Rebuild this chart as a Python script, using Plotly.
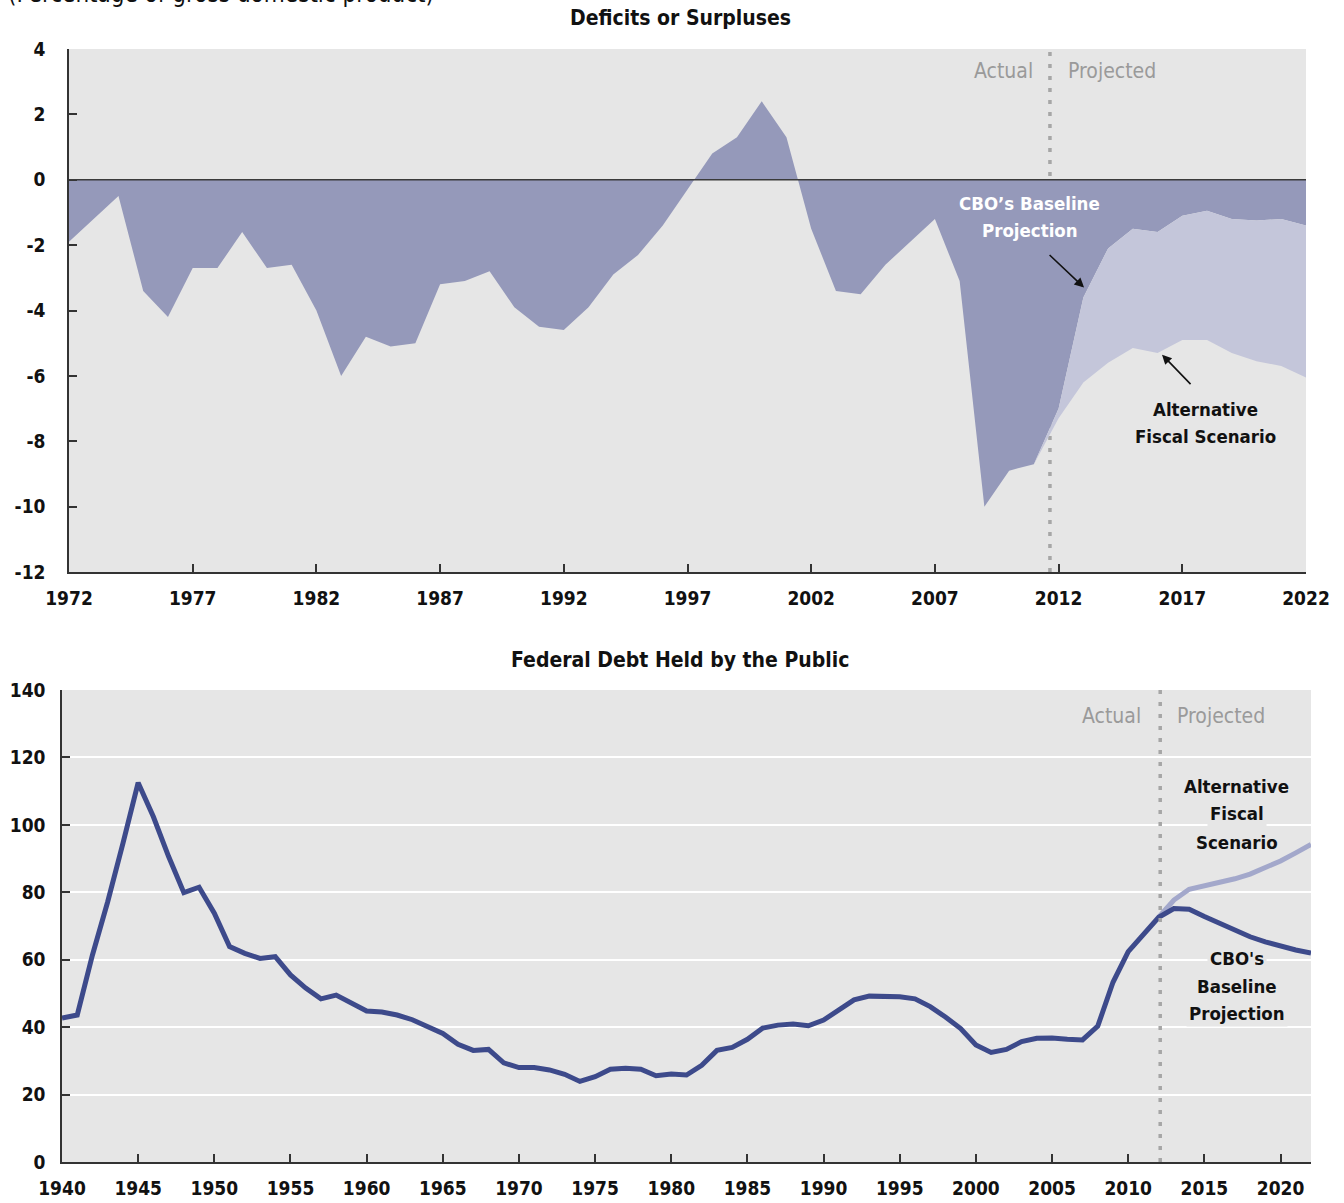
import plotly.graph_objects as go

# ---------------- data ----------------
deficit_years = list(range(1972, 2023))
deficit_baseline = [-1.9, -1.2, -0.5, -3.4, -4.2, -2.7, -2.7, -1.6, -2.7, -2.6,
                    -4.0, -6.0, -4.8, -5.1, -5.0, -3.2, -3.1, -2.8, -3.9, -4.5,
                    -4.6, -3.9, -2.9, -2.3, -1.4, -0.3, 0.8, 1.3, 2.4, 1.3,
                    -1.5, -3.4, -3.5, -2.6, -1.9, -1.2, -3.1, -10.0, -8.9, -8.7,
                    -7.0, -3.6, -2.1, -1.5, -1.6, -1.1, -0.95, -1.2, -1.25, -1.2,
                    -1.4]
alt_deficit_years = list(range(2011, 2023))
alt_deficit = [-8.7, -7.3, -6.2, -5.6, -5.15, -5.3, -4.9, -4.9, -5.3, -5.55, -5.7, -6.05]

debt_years = list(range(1940, 2023))
debt_baseline = [42.7, 43.6, 61.4, 77.2, 94.5, 112.5, 102.4, 90.6, 79.9, 81.5,
                 73.8, 63.9, 61.9, 60.4, 60.9, 55.5, 51.6, 48.4, 49.5, 47.2,
                 44.8, 44.5, 43.6, 42.2, 40.3, 38.1, 34.9, 33.1, 33.4, 29.4,
                 28.0, 28.0, 27.3, 26.0, 23.9, 25.3, 27.5, 27.8, 27.5, 25.6,
                 26.1, 25.8, 28.7, 33.1, 34.0, 36.4, 39.7, 40.6, 40.9, 40.4,
                 42.1, 45.3, 48.1, 49.2, 49.1, 49.0, 48.4, 46.1, 43.0, 39.6,
                 34.7, 32.5, 33.4, 35.7, 36.7, 36.8, 36.4, 36.2, 40.3, 53.3,
                 62.4, 67.7, 72.6, 75.2, 75.0, 72.8, 70.8, 68.8, 66.8, 65.3,
                 64.0, 62.9, 62.0]
alt_debt_years = list(range(2012, 2023))
alt_debt = [72.6, 77.7, 80.9, 81.9, 82.8, 84.0, 85.4, 87.2, 89.3, 91.7, 94.2]

top_xticks = list(range(1972, 2023, 5))
top_yticks = [4, 2, 0, -2, -4, -6, -8, -10, -12]
top_yticktext = ["4", "2", "0", "-2", "-4", "-6", "-8", "-10", "-12"]
bot_xticks = list(range(1940, 2021, 5))
bot_yticks = [0, 20, 40, 60, 80, 100, 120, 140]

# ---------------- style ----------------
FONT = "DejaVu Sans Condensed, Liberation Sans Narrow, Arial Narrow, sans-serif"
BG = "#e6e6e6"
DARK_FILL = "#9599ba"
LIGHT_FILL = "#c4c6da"
DARK_LINE = "#3d4a8b"
LIGHT_LINE = "#a3a8cb"
AXIS = "#333333"

W, H = 1344, 1203
def px_x(p):
    return p / W
def px_y(p):
    return 1 - p / H

fig = go.Figure()

# top chart: dark area (actual + baseline)
fig.add_trace(go.Scatter(x=deficit_years, y=deficit_baseline, mode="lines",
                         line=dict(width=0, color=DARK_FILL), fill="tozeroy",
                         fillcolor=DARK_FILL, xaxis="x", yaxis="y",
                         hoverinfo="skip", showlegend=False))
# light band between baseline and alternative
base_seg = deficit_baseline[deficit_years.index(alt_deficit_years[0]):]
fig.add_trace(go.Scatter(x=alt_deficit_years, y=base_seg, mode="lines",
                         line=dict(width=0, color=LIGHT_FILL),
                         xaxis="x", yaxis="y", hoverinfo="skip", showlegend=False))
fig.add_trace(go.Scatter(x=alt_deficit_years, y=alt_deficit, mode="lines",
                         line=dict(width=0, color=LIGHT_FILL), fill="tonexty",
                         fillcolor=LIGHT_FILL, xaxis="x", yaxis="y",
                         hoverinfo="skip", showlegend=False))

# bottom chart lines
fig.add_trace(go.Scatter(x=alt_debt_years, y=alt_debt, mode="lines",
                         line=dict(width=5, color=LIGHT_LINE),
                         xaxis="x2", yaxis="y2", showlegend=False))
fig.add_trace(go.Scatter(x=debt_years, y=debt_baseline, mode="lines",
                         line=dict(width=5, color=DARK_LINE),
                         xaxis="x2", yaxis="y2", showlegend=False))

tickfont = dict(family=FONT, size=19, color="#111111", weight="bold")
axis_common = dict(ticks="inside", ticklen=8, tickwidth=1.5, tickcolor=AXIS,
                   showline=True, linecolor=AXIS, linewidth=1.5, zeroline=False,
                   tickfont=tickfont, automargin=False, fixedrange=True)

fig.update_layout(
    width=W, height=H,
    margin=dict(l=0, r=0, t=0, b=0, autoexpand=False),
    paper_bgcolor="white",
    plot_bgcolor=BG,
    font=dict(family=FONT, color="#111111"),
    showlegend=False,
    xaxis=dict(domain=[px_x(69), px_x(1306)], range=[1972, 2022],
               tickvals=top_xticks, showgrid=False, ticklabelstandoff=8,
               anchor="y", **axis_common),
    yaxis=dict(domain=[px_y(572), px_y(49)], range=[-12, 4],
               tickvals=top_yticks, ticktext=top_yticktext, showgrid=False,
               ticklabelstandoff=18, anchor="x", **axis_common),
    xaxis2=dict(domain=[px_x(62), px_x(1311)], range=[1940, 2022],
                tickvals=bot_xticks, showgrid=False, ticklabelstandoff=8,
                anchor="y2", **axis_common),
    yaxis2=dict(domain=[px_y(1162), px_y(690)], range=[0, 140],
                tickvals=bot_yticks, showgrid=True, gridcolor="white",
                gridwidth=2, ticklabelstandoff=11, anchor="x2", **axis_common),
)

# dotted actual/projected dividers
fig.add_shape(type="line", xref="x", yref="y", x0=2011.65, x1=2011.65, y0=-12, y1=4,
              line=dict(color="#a6a6a6", width=3.5, dash="4px,8px"), layer="below")
fig.add_shape(type="line", xref="x2", yref="y2", x0=2012.1, x1=2012.1, y0=0, y1=140,
              line=dict(color="#a6a6a6", width=3.5, dash="4px,8px"), layer="above")
# zero line on top chart
fig.add_shape(type="line", xref="x", yref="y", x0=1972, x1=2022, y0=0, y1=0,
              line=dict(color="#3a3a3a", width=1.5), layer="above")

gray = dict(family=FONT, size=21, color="#9a9a9a")
bold_black = dict(family=FONT, size=18.5, color="#111111", weight="bold")
bold_white = dict(family=FONT, size=18.5, color="white", weight="bold")
title_font = dict(family=FONT, size=21, color="#111111", weight="bold")

annos = [
    # titles
    dict(text="Deficits or Surpluses", xref="paper", yref="paper",
         x=px_x(680), y=px_y(18), xanchor="center", yanchor="middle",
         showarrow=False, font=title_font),
    dict(text="Federal Debt Held by the Public", xref="paper", yref="paper",
         x=px_x(680), y=px_y(660), xanchor="center", yanchor="middle",
         showarrow=False, font=title_font),
    dict(text="(Percentage of gross domestic product)", xref="paper", yref="paper",
         x=px_x(6), y=px_y(10), xanchor="left", yanchor="bottom",
         showarrow=False, font=dict(family=FONT, size=24, color="#111111")),
    # top: Actual / Projected
    dict(text="Actual", xref="x", yref="y", x=2011.05, y=3.33, xanchor="right",
         yanchor="middle", showarrow=False, font=gray),
    dict(text="Projected", xref="x", yref="y", x=2012.3, y=3.33, xanchor="left",
         yanchor="middle", showarrow=False, font=gray),
    # top labels (one annotation per line for exact spacing)
    dict(text="CBO’s Baseline", xref="x", yref="y", x=2010.84, y=-0.73,
         xanchor="center", yanchor="middle", showarrow=False, font=bold_white),
    dict(text="Projection", xref="x", yref="y", x=2010.84, y=-1.56,
         xanchor="center", yanchor="middle", showarrow=False, font=bold_white),
    dict(text="Alternative", xref="x", yref="y", x=2017.92, y=-7.03,
         xanchor="center", yanchor="middle", showarrow=False, font=bold_black),
    dict(text="Fiscal Scenario", xref="x", yref="y", x=2017.92, y=-7.86,
         xanchor="center", yanchor="middle", showarrow=False, font=bold_black),
    # arrows
    dict(text="", xref="x", yref="y", x=2013.03, y=-3.3, ax=-36, ay=-34,
         showarrow=True, arrowhead=2, arrowsize=1.2, arrowwidth=1.6, arrowcolor="#111111"),
    dict(text="", xref="x", yref="y", x=2016.18, y=-5.35, ax=30, ay=31,
         showarrow=True, arrowhead=2, arrowsize=1.2, arrowwidth=1.6, arrowcolor="#111111"),
    # bottom: Actual / Projected
    dict(text="Actual", xref="x2", yref="y2", x=2010.96, y=132.3, xanchor="right",
         yanchor="middle", showarrow=False, font=gray),
    dict(text="Projected", xref="x2", yref="y2", x=2013.05, y=132.3, xanchor="left",
         yanchor="middle", showarrow=False, font=gray),
]
bottom_labels = [("Alternative", 111.5), ("Fiscal", 103.5), ("Scenario", 94.9),
                 ("CBO's", 60.5), ("Baseline", 52.2), ("Projection", 43.9)]
for txt, yv in bottom_labels:
    annos.append(dict(text=txt, xref="x2", yref="y2", x=2017.13, y=yv,
                      xanchor="center", yanchor="middle", showarrow=False,
                      font=bold_black, bgcolor=BG, borderpad=2))
for a in annos:
    fig.add_annotation(**a)

fig.write_html("out.html", config={"displayModeBar": False},
               post_script="document.body.style.margin='0';document.body.style.overflow='hidden';")
